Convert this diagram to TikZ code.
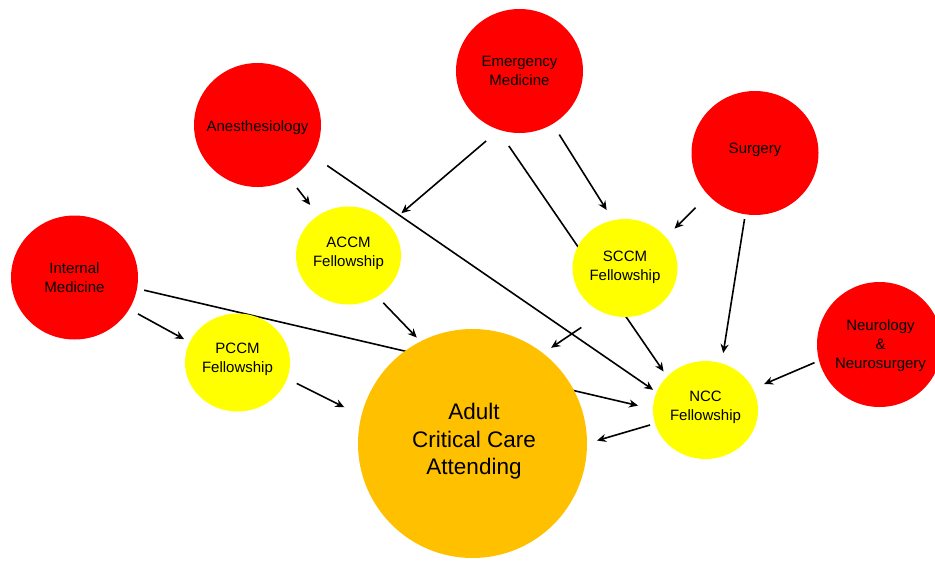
\documentclass[tikz,border=0pt]{standalone}
\usepackage{fontspec}
\setmainfont{Liberation Sans}
\usetikzlibrary{shapes.geometric,arrows.meta}
\pgfdeclarelayer{canvas}
\pgfdeclarelayer{links}
\pgfsetlayers{canvas,links,main}
\definecolor{specred}{HTML}{FF0000}
\definecolor{fellowyellow}{HTML}{FFFF00}
\definecolor{attendorange}{HTML}{FFC000}
\begin{document}
\begin{tikzpicture}[x=1pt,y=-1pt,
  disc/.style={ellipse,draw=none,inner sep=0pt,outer sep=0pt},
  specialty/.style={disc,fill=specred,minimum width=127pt,minimum height=124pt},
  fellowship/.style={disc,fill=fellowyellow,minimum width=105pt,minimum height=98pt},
  attending/.style={disc,fill=attendorange,minimum width=229pt,minimum height=229pt},
  lbl/.style={align=center,font=\fontsize{15}{19}\selectfont,inner sep=0pt},
  biglbl/.style={align=center,font=\fontsize{22.5}{27.5}\selectfont,inner sep=0pt},
  link/.style={line width=1.6pt,-{Stealth[length=9pt,width=8pt]}}]

\useasboundingbox (0,0) rectangle (935,560);
\begin{pgfonlayer}{canvas}
  \fill[white] (0,0) rectangle (935,560);
\end{pgfonlayer}

% specialties
\node[specialty] (em)   at (519.5,71)  {};
\node[specialty] (anes) at (257.5,125) {};
\node[specialty] (surg) at (755,153)   {};
\node[specialty] (im)   at (74.5,277.5) {};
\node[specialty,minimum width=125pt,minimum height=125pt] (neuro) at (879.5,344.5) {};

% fellowships
\node[fellowship] (accm) at (348.5,255.5) {};
\node[fellowship] (sccm) at (625,268)     {};
\node[fellowship] (pccm) at (237.5,362.5) {};
\node[fellowship] (ncc)  at (705.5,410)   {};

% final destination
\node[attending] (adult) at (472.5,443.5) {};

% labels
\node[lbl] (emT)    at (519.5,71)  {Emergency\\Medicine};
\node[lbl] (anesT)  at (257.5,127.5) {Anesthesiology};
\node[lbl] (surgT)  at (755,149.5) {Surgery};
\node[lbl] (imT)    at (74.5,277.5) {Internal\\Medicine};
\node[lbl] (neuroT) at (880.5,345.6) {Neurology\\\&\\Neurosurgery};
\node[lbl] (accmT)  at (348.5,253.3) {ACCM\\Fellowship};
\node[lbl] (sccmT)  at (625,267.3)   {SCCM\\Fellowship};
\node[lbl] (pccmT)  at (237.5,359.4) {PCCM\\Fellowship};
\node[lbl] (nccT)   at (705.5,407)   {NCC\\Fellowship};
\node[biglbl] (adultT) at (474,441.4) {Adult\\Critical Care\\Attending};

% pathways
\begin{pgfonlayer}{links}
  \draw[link,shorten <=12pt,shorten >=13.2pt]   (anes.-59)    -- (accm.127);
  \draw[link,shorten <=17.3pt,shorten >=16.6pt] (em.-109.5)   -- (accm.38.6);
  \draw[link,shorten <=17.6pt,shorten >=4.2pt]  (anes.-29.4)  -- (ncc.160.5);
  \draw[link,shorten <=20.5pt,shorten >=6.2pt]  (em.-111)     -- (ncc.139.9);
  \draw[link,shorten <=12.6pt,shorten >=12.1pt] (em.-58.7)    -- (sccm.104.9);
  \draw[link,shorten <=17.9pt,shorten >=12.2pt] (surg.-138.9) -- (sccm.37.8);
  \draw[link,shorten <=4.9pt,shorten >=10.4pt]  (surg.-99.5)  -- (ncc.71.5);
  \draw[link,shorten <=10.1pt,shorten >=6.4pt]  (im.-30.1)    -- (pccm.157);
  \draw[link,shorten <=7.4pt,shorten >=15.4pt]  (im.-10.7)    -- (ncc.179.3);
  \draw[link,shorten <=8.7pt,shorten >=5.4pt]   (accm.-55.1)  -- (adult.117.5);
  \draw[link,shorten <=10.8pt,shorten >=19.1pt] (pccm.-18.9)  -- (adult.166.6);
  \draw[link,shorten <=26.5pt,shorten >=9.8pt]  (sccm.-116.9) -- (adult.52.8);
  \draw[link,shorten <=5.2pt,shorten >=10.5pt]  (ncc.-165.2)  -- (adult.0.85);
  \draw[link,shorten <=5pt,shorten >=12.2pt]    (neuro.-165.3) -- (ncc.24);
\end{pgfonlayer}
\end{tikzpicture}
\end{document}
